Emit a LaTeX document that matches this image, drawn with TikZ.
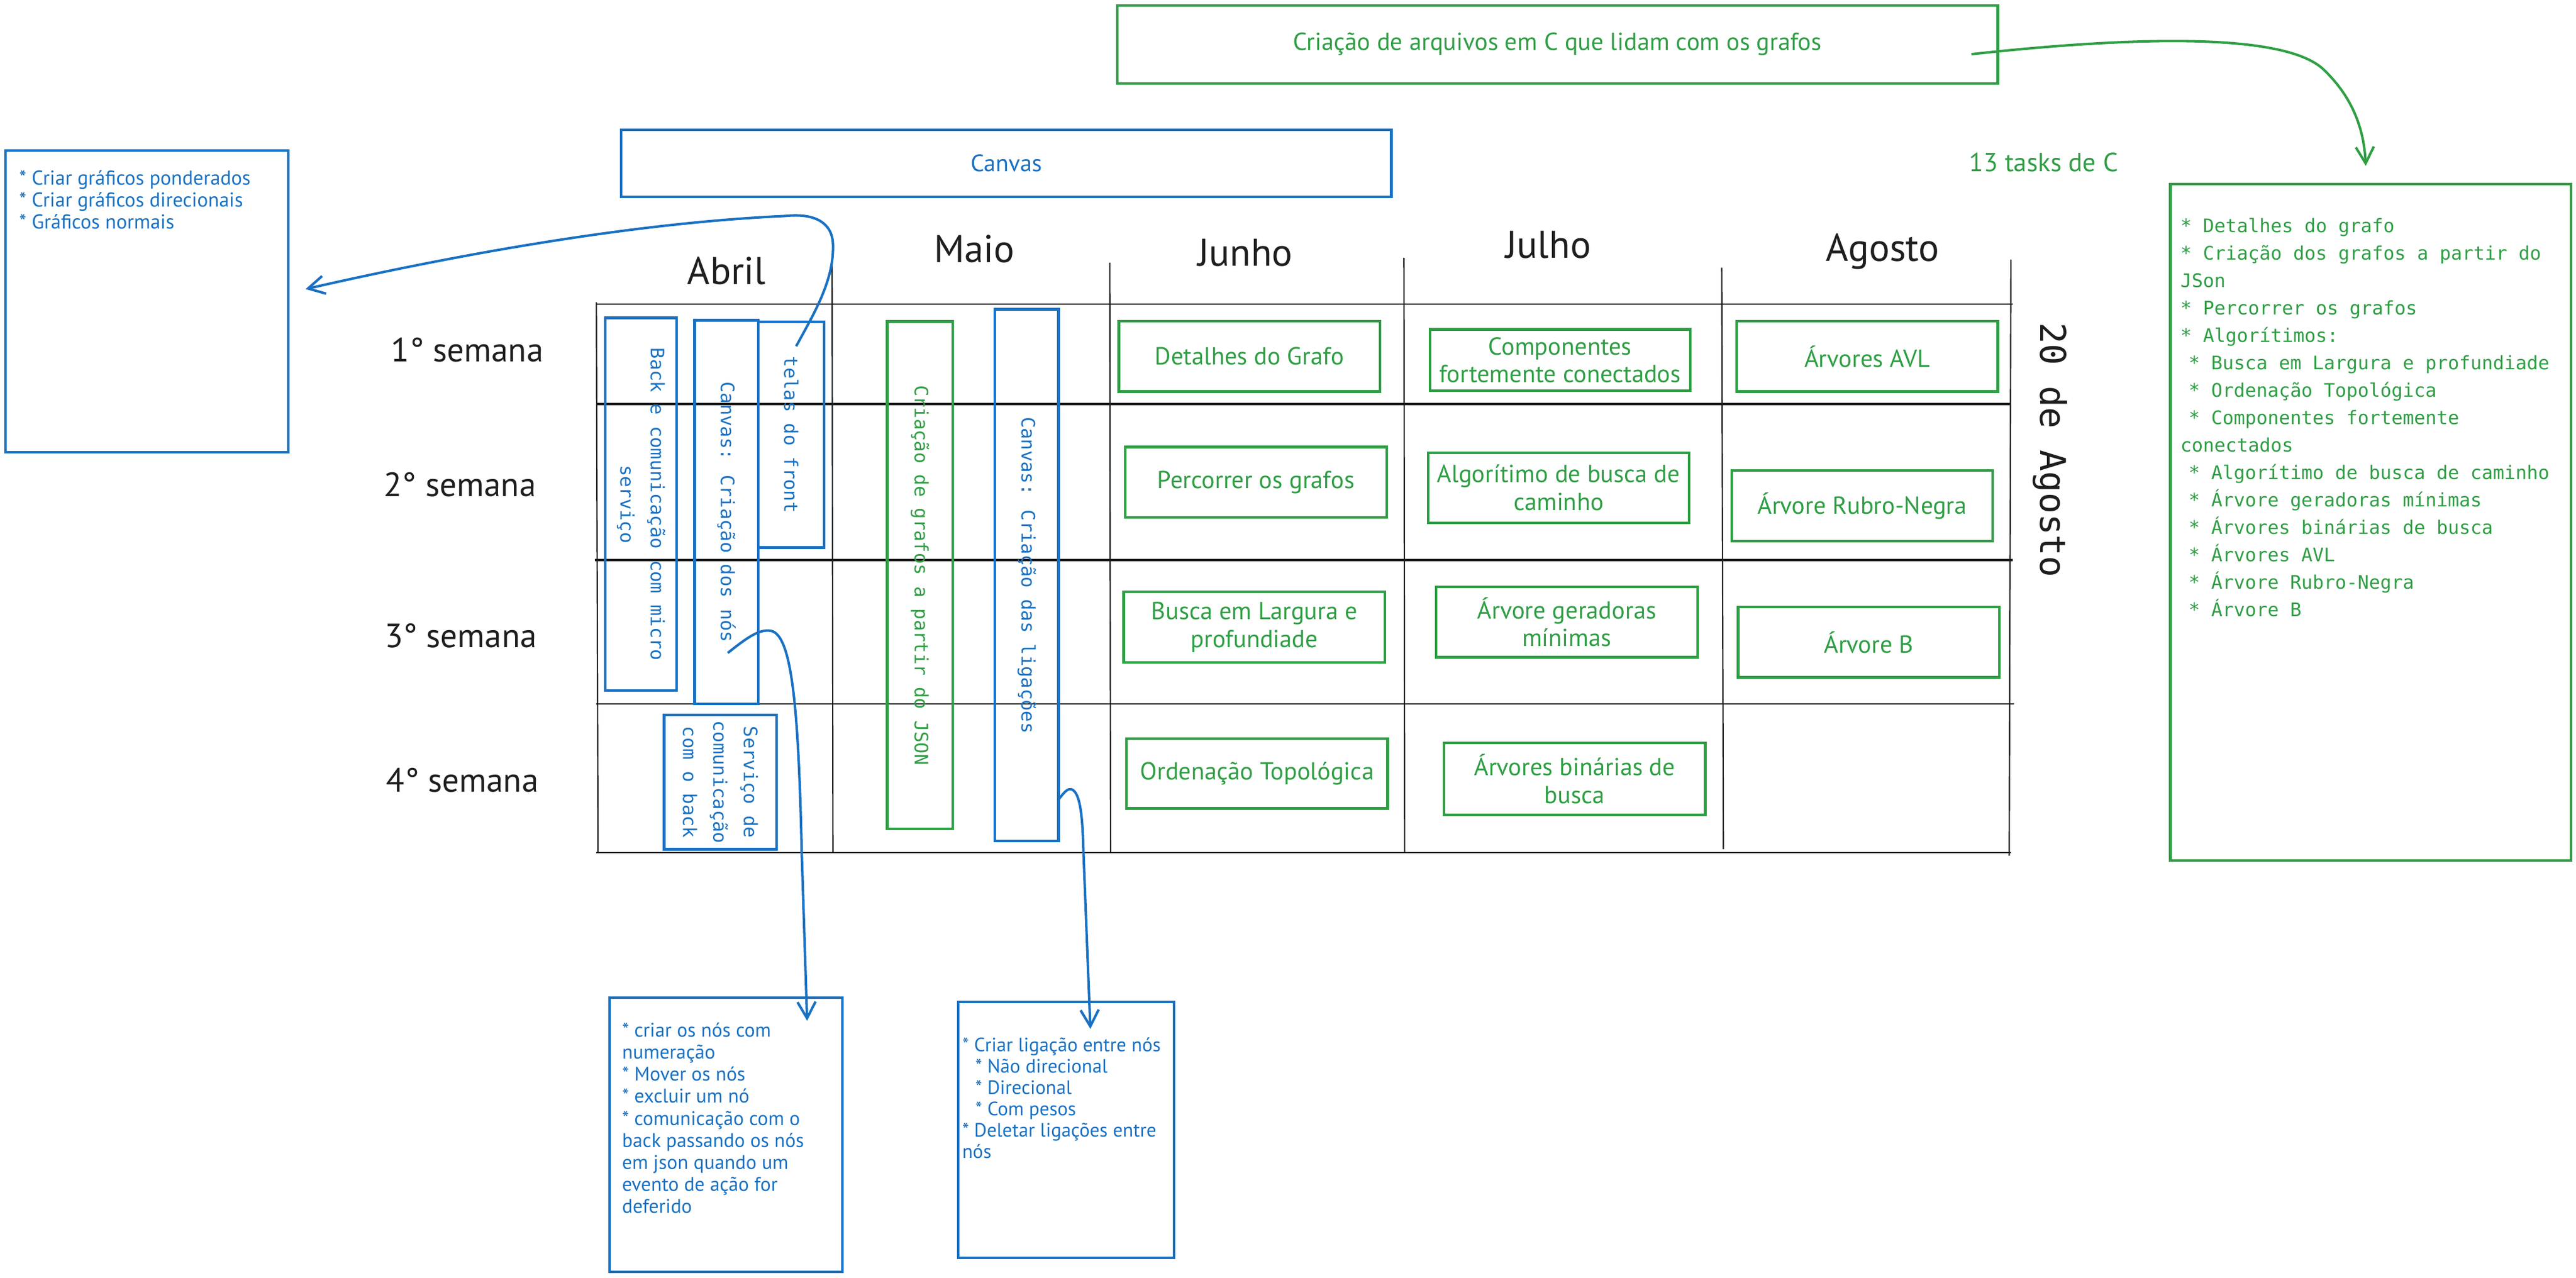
\documentclass[tikz,border=0pt]{standalone}
\usepackage{fontspec}
\setmainfont{PT Sans}
\newfontfamily\widefont{DejaVu Sans Mono}
\usetikzlibrary{arrows.meta}
\definecolor{exblue}{HTML}{1971C2}
\definecolor{exgreen}{HTML}{2F9E44}
\definecolor{exblack}{HTML}{1E1E1E}
\newcommand\indsp{\hspace*{5pt}}
\newcommand\indsq{\hspace*{8pt}}
\tikzset{
  box/.style={draw, rectangle, line width=1.6pt, inner sep=0pt, align=center},
  gbox/.style={box, draw=exgreen, text=exgreen, font=\fontsize{15}{17}\selectfont},
  bbox/.style={box, draw=exblue, text=exblue},
  vertbox/.style={box, rotate=-90, font=\widefont\fontsize{11.3}{18.5}\selectfont},
  month/.style={text=exblack, font=\fontsize{23.5}{26}\selectfont, inner sep=0pt},
  week/.style={text=exblack, font=\fontsize{20.5}{24}\selectfont, inner sep=0pt},
  thinline/.style={draw=exblack, line width=0.8pt},
  thickline/.style={draw=exblack, line width=1.7pt},
  conn/.style={line width=1.5pt, -{Straight Barb[length=10pt,width=11pt]}},
  note/.style={inner sep=0pt, align=left, anchor=north west},
}
\begin{document}
\begin{tikzpicture}[x=1pt,y=-1pt]
\fill[white] (0,0) rectangle (1568,777.7);
\useasboundingbox (0,0) rectangle (1568,777.7);

% grid
\draw[thinline] (363,185) -- (1225,185);
\draw[thickline] (363,246) -- (1224,246);
\draw[thickline] (362,341) -- (1225,341);
\draw[thinline] (363,428.6) -- (1226,428.6);
\draw[thinline] (363,519) -- (1224,519);
\draw[thinline] (363,184) -- (364,519);
\draw[thinline] (506.5,160) -- (507,519);
\draw[thinline] (675.5,160) -- (676,519);
\draw[thinline] (854.6,157) -- (855,519);
\draw[thinline] (1048,163) -- (1049,517);
\draw[thinline] (1224,158) -- (1223,521);

% months and weeks
\node[month] (abril) at (442.3,165) {Abril};
\node[month] (maio) at (593,151.5) {Maio};
\node[month] (junho) at (758,154) {Junho};
\node[month] (julho) at (942.5,149) {Julho};
\node[month] (agosto) at (1146,153.3) {Agosto};
\node[week] (w1) at (284.5,213) {1° semana};
\node[week] (w2) at (280,295) {2° semana};
\node[week] (w3) at (280.5,387) {3° semana};
\node[week] (w4) at (281.5,475) {4° semana};
\node[rotate=-90, text=exblack, font=\widefont\fontsize{21.5}{24}\selectfont, inner sep=0pt] (deadline) at (1248,274) {20 de Agosto};

% top boxes
\node[gbox, minimum width=536, minimum height=47.5, font=\fontsize{15}{17}\selectfont] (topbox) at (948,27) {Criação de arquivos em C que lidam com os grafos};
\node[bbox, minimum width=468.7, minimum height=40.9, font=\fontsize{14.5}{17}\selectfont] (canvas) at (612.5,99.5) {Canvas};
\node[text=exgreen, font=\fontsize{16}{18}\selectfont] (tasks) at (1244,99) {13 tasks de C};

% left note
\node[bbox, minimum width=172.2, minimum height=183.6] (leftbox) at (89.4,183.5) {};
\node[note, text=exblue, font=\fontsize{12.3}{13.3}\selectfont] (lefttext) at (11.5,103.5) {* Criar gráficos ponderados\\* Criar gráficos direcionais\\* Gráficos normais};

% right note
\node[box, draw=exgreen, minimum width=244, minimum height=412] (rightbox) at (1443,318) {};
\node[note, text=exgreen, font=\widefont\fontsize{11.4}{16.7}\selectfont] (righttext) at (1327,132.7) {* Detalhes do grafo\\* Criação dos grafos a partir do\\JSon\\* Percorrer os grafos\\* Algorítimos:\\\indsp* Busca em Largura e profundiade\\\indsp* Ordenação Topológica\\\indsp* Componentes fortemente\\conectados\\\indsp* Algorítimo de busca de caminho\\\indsp* Árvore geradoras mínimas\\\indsp* Árvores binárias de busca\\\indsp* Árvores AVL\\\indsp* Árvore Rubro-Negra\\\indsp* Árvore B};

% Abril / Maio boxes
\node[vertbox, draw=exblue, text=exblue, minimum width=227, minimum height=43.5] (back) at (390.2,307) {Back e comunicação com micro\\serviço};
\node[vertbox, draw=exblue, text=exblue, minimum width=233.6, minimum height=38.8] (canvasnos) at (442.2,311.8) {Canvas: Criação dos nós};
\node[vertbox, draw=exblue, text=exblue, minimum width=137.6, minimum height=40.1] (telas) at (481.6,264.6) {telas do front};
\node[vertbox, draw=exblue, text=exblue, minimum width=81.7, minimum height=68.5] (servico) at (438.5,476.2) {Serviço de\\comunicação\\com o back};
\node[vertbox, draw=exgreen, text=exgreen, minimum width=309, minimum height=40] (json) at (560,350.2) {Criação de grafos a partir do JSON};
\node[vertbox, draw=exblue, text=exblue, minimum width=323.7, minimum height=38.7] (ligacoes) at (625,350.2) {Canvas: Criação das ligações};

% green task boxes
\node[gbox, minimum width=159, minimum height=42.8] (detalhes) at (760.5,217) {Detalhes do Grafo};
\node[gbox, minimum width=158.3, minimum height=37.3] (componentes) at (949.6,219.2) {Componentes\\fortemente conectados};
\node[gbox, minimum width=159, minimum height=42.8] (avl) at (1136.5,217) {Árvores AVL};
\node[gbox, minimum width=159, minimum height=42.8] (percorrer) at (764.5,293.6) {Percorrer os grafos};
\node[gbox, minimum width=158.6, minimum height=42.7] (caminho) at (948.7,297) {Algorítimo de busca de\\caminho};
\node[gbox, minimum width=159, minimum height=43] (rubro) at (1133.5,307.9) {Árvore Rubro-Negra};
\node[gbox, minimum width=159, minimum height=42.8] (busca) at (763.5,381.8) {Busca em Largura e\\profundiade};
\node[gbox, minimum width=159, minimum height=43] (geradoras) at (953.7,378.7) {Árvore geradoras\\mínimas};
\node[gbox, minimum width=159, minimum height=42.8] (arvoreb) at (1137.5,391) {Árvore B};
\node[gbox, minimum width=159, minimum height=42.4] (ordenacao) at (765.2,471) {Ordenação Topológica};
\node[gbox, minimum width=159, minimum height=43.6] (binarias) at (958.5,474.2) {Árvores binárias de\\busca};

% bottom notes
\node[bbox, minimum width=141.8, minimum height=166.8] (nosbox) at (441.9,690.9) {};
\node[note, text=exblue, font=\fontsize{12}{13.4}\selectfont] (nostext) at (378.5,622.5) {* criar os nós com\\numeração\\* Mover os nós\\* excluir um nó\\* comunicação com o\\back passando os nós\\em json quando um\\evento de ação for\\deferido};
\node[bbox, minimum width=131.4, minimum height=155.8] (ligbox) at (648.9,687.9) {};
\node[note, text=exblue, font=\fontsize{11.8}{13}\selectfont] (ligtext) at (585.5,631.5) {* Criar ligação entre nós\\\indsq* Não direcional\\\indsq* Direcional\\\indsq* Com pesos\\* Deletar ligações entre\\nós};

% connectors
\coordinate (s1) at (484.6,210.8);
\coordinate (e1) at (186,176);
\draw[conn, exblue] (s1) .. controls (496,190) and (508,170) .. (507,148) .. controls (506,133) and (492,130) .. (478,131.5) .. controls (400,135) and (300,150) .. (e1);
\coordinate (s2) at (1200,33);
\coordinate (e2) at (1440,101);
\draw[conn, exgreen] (s2) .. controls (1300,22) and (1390,20) .. (1414,42) .. controls (1433,60) and (1439,80) .. (e2);
\coordinate (s3) at (443,397.5);
\coordinate (e3) at (491.3,621.5);
\draw[conn, exblue] (s3) .. controls (455,388) and (462,383) .. (469,384) .. controls (482,386) and (486,430) .. (488,519) -- (e3);
\coordinate (s4) at (644.7,486.3);
\coordinate (e4) at (663.7,626.4);
\draw[conn, exblue] (s4) .. controls (648,482) and (650,480) .. (652,480.5) .. controls (658,482) and (659,500) .. (659.5,519) -- (e4);
\end{tikzpicture}
\end{document}
